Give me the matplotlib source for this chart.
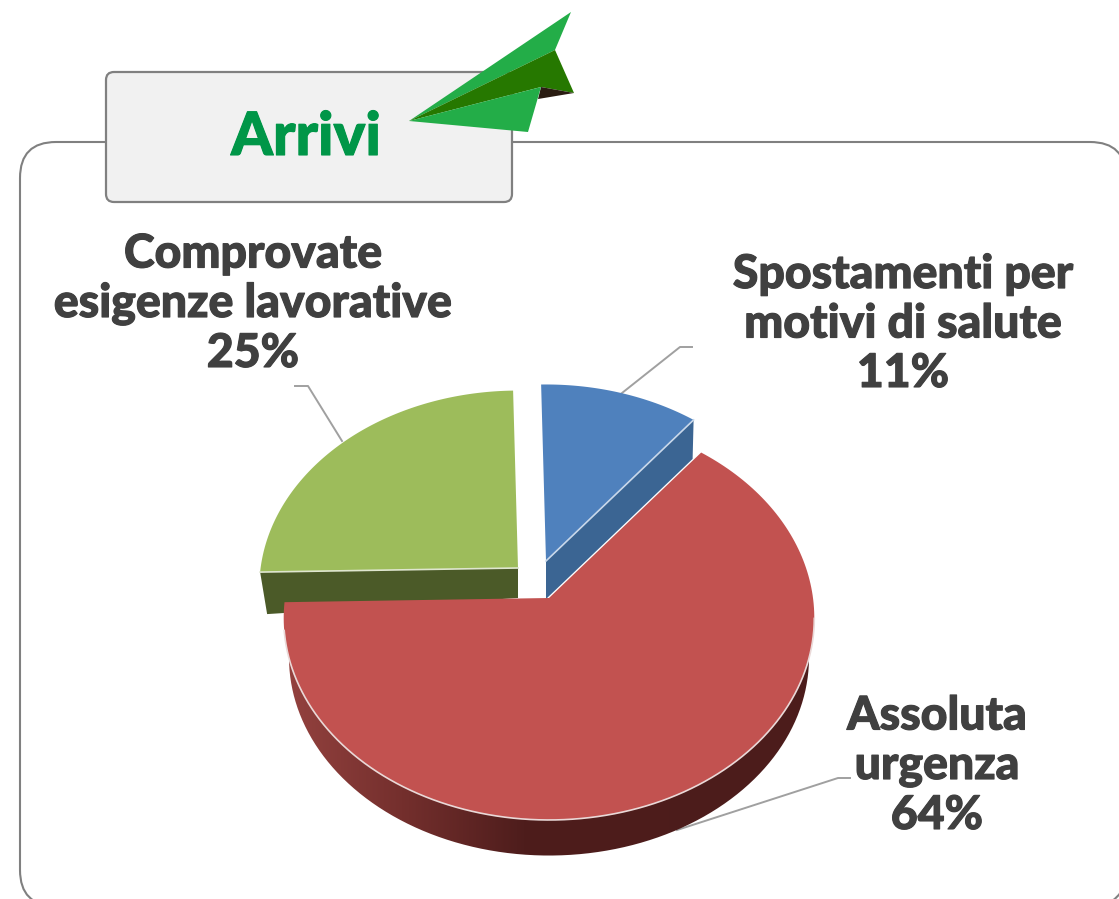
import numpy as np
import matplotlib
matplotlib.use("Agg")
import matplotlib.patheffects as pe
import matplotlib.pyplot as plt
from matplotlib.colors import LinearSegmentedColormap
from matplotlib.patches import FancyBboxPatch, PathPatch, Polygon
from matplotlib.path import Path

categories = ["Spostamenti per\nmotivi di salute", "Assoluta\nurgenza", "Comprovate\nesigenze lavorative"]
values = [11, 64, 25]
title = "Arrivi"

BLUE, BLUE_DARK = "#4f81bd", "#3b6593"
RED = "#c25250"
GREEN, GREEN_DARK = "#9dbc5b", "#4b5a28"
TEXT = "#404040"
LINE = "#808080"
LEADER = "#a0a0a0"

# perspective of the pie disc, in pixels
RX, RY, PERSP, ROT = 264.0, 200.0, 0.099, 1.2


def project(theta, cx, cy, f=1.0):
    """theta in degrees, clockwise from 12 o'clock, to image pixels."""
    t = np.radians(np.asarray(theta, dtype=float) - ROT)
    x, y = np.sin(t), np.cos(t)
    w = 1 + PERSP * y
    return np.column_stack([cx + f * RX * x / w, cy - f * RY * y / w])


def arc(a, b, cx, cy, f=1.0):
    return project(np.linspace(a, b, 200), cx, cy, f)


fig = plt.figure(figsize=(11.19, 8.99), dpi=100)
ax = fig.add_axes([0, 0, 1, 1])
ax.set_xlim(0, 1119)
ax.set_ylim(899, 0)
ax.axis("off")

# outer frame and title box
ax.add_patch(FancyBboxPatch((20 + 36, 142 + 36), 1126 - 20 - 72, 906 - 142 - 72,
                            boxstyle="round,pad=36,rounding_size=36",
                            fc="white", ec=LINE, lw=1.5, zorder=1))
ax.add_patch(FancyBboxPatch((106 + 8, 72 + 8), 512 - 106 - 16, 202 - 72 - 16,
                            boxstyle="round,pad=8,rounding_size=8",
                            fc="#f1f1f1", ec=LINE, lw=1.6, zorder=2))
ax.text(306, 155, title, color="#009648", fontsize=43, fontweight=900,
        family="Lato", ha="center", va="baseline", zorder=3,
        path_effects=[pe.withStroke(linewidth=0.8, foreground="#009648")])

# paper plane
ax.add_patch(Polygon([(409, 121), (571, 12), (555, 50)], fc="#23ad48", zorder=4))
ax.add_patch(Polygon([(409, 121), (555, 50), (574, 93), (541, 87)], fc="#267800", zorder=4))
ax.add_patch(Polygon([(541, 87), (574, 93), (538, 99)], fc="#2a1c12", zorder=4))
ax.add_patch(Polygon([(409, 121), (541, 87), (528, 132)], fc="#23ad48", zorder=5))

# slice limits from the values
edges = np.cumsum([0] + values) / sum(values) * 360.0
blue_a, blue_b = edges[0], edges[1]
red_a, red_b = edges[1], edges[2]
green_a, green_b = edges[2], edges[3]

# green slice
gc = (518, 568)
gf = 0.975
rim = project(green_a, *gc, gf)[0]
ax.add_patch(Polygon([gc, rim, (rim[0] + 7, rim[1] + 42), (gc[0], gc[1] + 30)],
                     fc=GREEN_DARK, ec="none", zorder=6))
ax.add_patch(Polygon(np.vstack([[gc], arc(green_a, green_b, *gc, gf)]),
                     fc=GREEN, ec="none", zorder=7))
ax.plot([rim[0], gc[0]], [rim[1], gc[1]], color="#dfe6cf", lw=1.2, zorder=8)

# blue slice
bc = (546, 561)
bf = 0.97
rim = project(blue_b, *bc, bf)[0]
ax.add_patch(Polygon([bc, rim, (rim[0] - 1, rim[1] + 39), (bc[0], bc[1] + 38)],
                     fc=BLUE_DARK, ec="none", zorder=6))
ax.add_patch(Polygon(np.vstack([[bc], arc(blue_a, blue_b, *bc, bf)]),
                     fc=BLUE, ec="none", zorder=7))
ax.plot([rim[0], bc[0]], [rim[1], bc[1]], color="#c9d8ea", lw=1.2, zorder=8)

# red slice: gradient wall first, then the top face
rc = (549, 598)
wall = np.vstack([arc(90, 270, rc[0], rc[1] + 40, 0.98)])
cmap = LinearSegmentedColormap.from_list("wall", [(0, "#94423f"), (0.22, "#742f2d"),
                                                  (0.45, "#4e1d1c"), (1, "#4c1c1b")])
im = ax.imshow(np.linspace(0, 1, 256).reshape(1, -1), cmap=cmap, aspect="auto",
               extent=(285, 815, 860, 630), zorder=8)
clip = PathPatch(Path(np.vstack([wall, wall[:1]])), fc="none", ec="none", zorder=8)
ax.add_patch(clip)
im.set_clip_path(clip)
ax.set_xlim(0, 1119)
ax.set_ylim(899, 0)
ax.add_patch(Polygon(np.vstack([[rc], arc(red_a, red_b, *rc)]), fc=RED, ec="none", zorder=9))
front = arc(97, 262, *rc)
ax.plot(front[:, 0], front[:, 1], color="#ead9d8", lw=1.2, zorder=10)

# leader lines
ax.plot([622, 680, 692], [393, 347, 347], color=LEADER, lw=1.4, zorder=3)
ax.plot([342, 308, 295], [441, 386, 386], color=LEADER, lw=1.4, zorder=3)
ax.plot([677, 838, 850], [830, 778, 778], color=LEADER, lw=1.4, zorder=3)

# data labels
label_pos = [(903, 387), (937, 829), (253, 367)]
for cat, val, (x, y) in zip(categories, values, label_pos):
    ax.text(x, y, f"{cat}\n{val}%", color=TEXT, fontsize=33.4, fontweight=900,
            family="Lato", ha="center", va="baseline", linespacing=1.22,
            multialignment="center", zorder=11,
            path_effects=[pe.withStroke(linewidth=0.8, foreground=TEXT)])

fig.savefig("out.png", dpi=100)
